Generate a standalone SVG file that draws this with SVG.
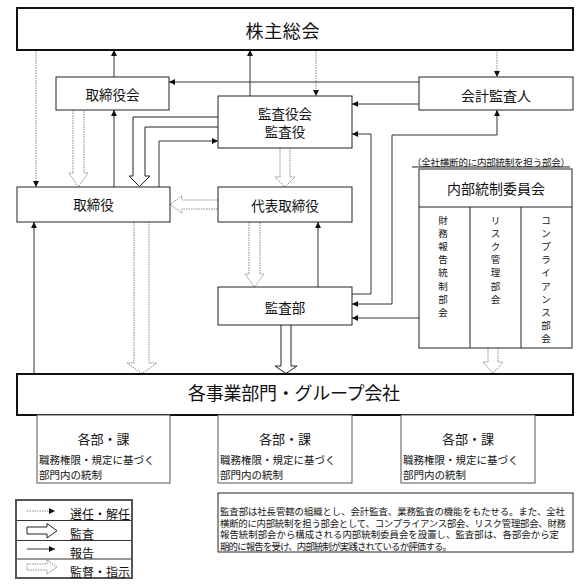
<svg xmlns="http://www.w3.org/2000/svg" width="587" height="587" viewBox="0 0 587 587">
<style>
text{font-family:"Noto Sans CJK JP","Noto Sans",sans-serif;fill:#111}
.box{fill:#fff;stroke:#222;stroke-width:1}
.thick{fill:#fff;stroke:#111;stroke-width:2}
.sub{fill:#fff;stroke:#555;stroke-width:1}
.rep{fill:none;stroke:#333;stroke-width:1}
.sel{fill:none;stroke:#888;stroke-width:1;stroke-dasharray:1.5 1}
.aud{fill:#fff;stroke:#222;stroke-width:1}
.sup{fill:#fff;stroke:#888;stroke-width:1;stroke-dasharray:1.5 1}
.c{text-anchor:middle}
.note{font-size:9.4px}
.col{font-size:9.5px;text-anchor:middle}
</style>
<defs>
<marker id="ah" markerUnits="userSpaceOnUse" markerWidth="6" markerHeight="6" refX="6" refY="3" orient="auto-start-reverse">
<path d="M0,0 L6,3 L0,6 z" fill="#111"/>
</marker>
</defs>
<rect width="587" height="587" fill="#fff"/>

<g id="connectors">
<path class="sel" d="M36,50 V187" marker-end="url(#ah)"/>
<path class="sel" d="M316,50 V96" marker-end="url(#ah)"/>
<path class="sel" d="M497,50 V77" marker-end="url(#ah)"/>
<path class="rep" d="M114,77 V50" marker-end="url(#ah)"/>
<path class="rep" d="M250,96 V50" marker-end="url(#ah)"/>
<path class="rep" d="M419,82 H169" marker-end="url(#ah)"/>
<path class="rep" d="M419,104 H352" marker-end="url(#ah)"/>
<path class="rep" d="M114,187 V110" marker-end="url(#ah)"/>
<path class="rep" d="M159,187 V141 H218" marker-end="url(#ah)"/>
<path class="rep" d="M318,287 V222" marker-end="url(#ah)"/>
<path class="rep" d="M352,294 H371 V134 H352" marker-end="url(#ah)"/>
<path class="rep" d="M352,304 H392 V135 H497 V110" marker-start="url(#ah)" marker-end="url(#ah)"/>
<path class="rep" d="M419,318 H352" marker-end="url(#ah)"/>
<path class="rep" d="M34,374 V222" marker-end="url(#ah)"/>
<path class="aud" d="M218,117 H133 V176 H129 L139.5,186.5 L150,176 H145 V127 H218"/>
<path class="aud" d="M281,325 V366 H275 L286,373.5 L297,366 H291 V325"/>
<path class="sup" d="M73,110 V173 H69 L78.5,187 L88,173 H84 V110"/>
<path class="sup" d="M280,148 V177 H275 L285,187 L295,177 H290 V148"/>
<path class="sup" d="M218,200 H182 V196 L170,204.5 L182,213 V209 H218"/>
<path class="sup" d="M249,222 V274 H245 L254.5,287 L264,274 H260 V222"/>
<path class="sup" d="M134,222 V363 H127 L142,373.5 L157,363 H149 V222"/>
<path class="sup" d="M488,348 V362 H483 L493,373.5 L503,362 H498 V348"/>
</g>

<g id="kabunushi">
<rect class="thick" x="17" y="8" width="556" height="42"/>
<text class="c" x="282.5" y="38.3" font-size="18" textLength="74">株主総会</text>
</g>
<g id="torishimariyakukai">
<rect class="box" x="56" y="77" width="113" height="33"/>
<text class="c" x="112.5" y="100" font-size="13.5">取締役会</text>
</g>
<g id="kansayakukai">
<rect class="box" x="218" y="96" width="134" height="52"/>
<text class="c" x="285" y="118.7" font-size="13.5">監査役会</text>
<text class="c" x="285" y="137.2" font-size="13.5">監査役</text>
</g>
<g id="kaikeikansanin">
<rect class="box" x="419" y="77" width="154" height="33"/>
<text class="c" x="496" y="100.8" font-size="14">会計監査人</text>
</g>
<g id="torishimariyaku">
<rect class="box" x="17" y="187" width="153" height="35"/>
<text class="c" x="93.5" y="210" font-size="13.5">取締役</text>
</g>
<g id="daihyo">
<rect class="box" x="218" y="187" width="134" height="35"/>
<text class="c" x="285" y="210.5" font-size="13.5">代表取締役</text>
</g>
<g id="kansabu">
<rect class="box" x="218" y="287" width="134" height="38"/>
<text class="c" x="285" y="312.7" font-size="13.5">監査部</text>
</g>
<g id="naibutosei">
<text x="412" y="165.5" font-size="9.5" textLength="158" text-decoration="underline">（全社横断的に内部統制を担う部会）</text>
<rect class="box" x="419" y="169" width="153" height="179"/>
<line x1="419" y1="207" x2="572" y2="207" stroke="#222"/>
<line x1="470" y1="207" x2="470" y2="348" stroke="#222"/>
<line x1="521" y1="207" x2="521" y2="348" stroke="#222"/>
<text class="c" x="496" y="194.3" font-size="14">内部統制委員会</text>
<text class="col" x="443" y="223.6"><tspan x="443">財</tspan><tspan x="443" dy="13.2">務</tspan><tspan x="443" dy="13.2">報</tspan><tspan x="443" dy="13.2">告</tspan><tspan x="443" dy="13.2">統</tspan><tspan x="443" dy="13.2">制</tspan><tspan x="443" dy="13.2">部</tspan><tspan x="443" dy="13.2">会</tspan></text>
<text class="col" x="495.5" y="223.6"><tspan x="495.5">リ</tspan><tspan x="495.5" dy="13.2">ス</tspan><tspan x="495.5" dy="13.2">ク</tspan><tspan x="495.5" dy="13.2">管</tspan><tspan x="495.5" dy="13.2">理</tspan><tspan x="495.5" dy="13.2">部</tspan><tspan x="495.5" dy="13.2">会</tspan></text>
<text class="col" x="546" y="223.6"><tspan x="546">コ</tspan><tspan x="546" dy="13.2">ン</tspan><tspan x="546" dy="13.2">プ</tspan><tspan x="546" dy="13.2">ラ</tspan><tspan x="546" dy="13.2">イ</tspan><tspan x="546" dy="13.2">ア</tspan><tspan x="546" dy="13.2">ン</tspan><tspan x="546" dy="13.2">ス</tspan><tspan x="546" dy="13.2">部</tspan><tspan x="546" dy="13.2">会</tspan></text>
</g>
<g id="jigyobumon">
<rect class="thick" x="17" y="374" width="556" height="41"/>
<text class="c" x="294" y="400" font-size="18" textLength="212">各事業部門・グループ会社</text>
</g>
<g id="kakubu1">
<rect class="sub" x="37" y="415" width="133" height="68"/>
<text class="c" x="103.5" y="444" font-size="13">各部・課</text>
<text x="39" y="464" font-size="10.5">職務権限・規定に基づく</text>
<text x="39" y="479" font-size="10.5">部門内の統制</text>
</g>
<g id="kakubu2">
<rect class="sub" x="218" y="415" width="134" height="68"/>
<text class="c" x="285" y="444" font-size="13">各部・課</text>
<text x="220" y="464" font-size="10.5">職務権限・規定に基づく</text>
<text x="220" y="479" font-size="10.5">部門内の統制</text>
</g>
<g id="kakubu3">
<rect class="sub" x="401" y="415" width="134" height="68"/>
<text class="c" x="468" y="444" font-size="13">各部・課</text>
<text x="403" y="464" font-size="10.5">職務権限・規定に基づく</text>
<text x="403" y="479" font-size="10.5">部門内の統制</text>
</g>
<g id="note">
<rect class="box" x="218" y="493" width="355" height="59"/>
<text class="note" x="220" y="515.3" textLength="345">監査部は社長管轄の組織とし、会計監査、業務監査の機能をもたせる。また、全社</text>
<text class="note" x="220" y="526.7" textLength="346">横断的に内部統制を担う部会として、コンプライアンス部会、リスク管理部会、財務</text>
<text class="note" x="220" y="538.1" textLength="339">報告統制部会から構成される内部統制委員会を設置し、監査部は、各部会から定</text>
<text class="note" x="220" y="549.5" textLength="232">期的に報告を受け、内部統制が実践されているか評価する。</text>
</g>
<g id="legend">
<rect x="16" y="500" width="116" height="78" fill="#fff" stroke="#555" stroke-width="2"/>
<line x1="17" y1="520.5" x2="131" y2="520.5" stroke="#333"/>
<line x1="17" y1="540.5" x2="131" y2="540.5" stroke="#333"/>
<line x1="17" y1="559" x2="131" y2="559" stroke="#333"/>
<path class="sel" d="M27,511 H55" marker-end="url(#ah)"/>
<path class="aud" d="M27,527 H47 V523.5 L57,530.7 L47,538 V534 H27 z"/>
<path class="rep" d="M27,549 H55" marker-end="url(#ah)"/>
<path class="sup" d="M27,564 H47 V560 L57,567 L47,574 V570 H27 z"/>
<text x="70" y="519" font-size="12">選任・解任</text>
<text x="70" y="538.8" font-size="12">監査</text>
<text x="70" y="557.5" font-size="12">報告</text>
<text x="70" y="576.5" font-size="12">監督・指示</text>
</g>
</svg>
